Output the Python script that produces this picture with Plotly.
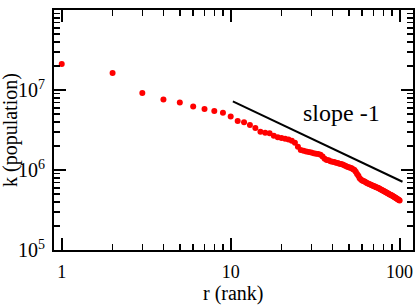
import math
import plotly.graph_objects as go

# ---- data ----
rank = list(range(1, 101))
population = [
    2.11e7, 1.63e7, 9.2e6, 7.6e6, 7.0e6, 6.2e6, 5.8e6, 5.45e6, 5.2e6, 4.68e6,
    4.1e6, 3.95e6, 3.65e6, 3.35e6, 3.0e6, 2.93e6, 2.87e6, 2.68e6, 2.57e6, 2.51e6,
    2.45e6, 2.40e6, 2.32e6, 2.19e6, 1.95e6, 1.78e6, 1.74e6, 1.70e6, 1.68e6, 1.66e6,
    1.62e6, 1.60e6, 1.58e6, 1.55e6, 1.48e6, 1.38e6, 1.33e6, 1.32e6, 1.29e6, 1.27e6,
    1.26e6, 1.23e6, 1.22e6, 1.20e6, 1.19e6, 1.17e6, 1.15e6, 1.12e6, 1.10e6, 1.08e6,
    1.07e6, 1.05e6, 1.02e6, 1.0e6, 9.5e5, 8.9e5, 8.5e5, 7.9e5, 7.6e5, 7.4e5,
    7.3e5, 7.2e5, 7.05e5, 6.9e5, 6.8e5, 6.7e5, 6.6e5, 6.5e5, 6.4e5, 6.3e5,
    6.25e5, 6.15e5, 6.1e5, 6.0e5, 5.96e5, 5.85e5, 5.75e5, 5.65e5, 5.58e5, 5.5e5,
    5.42e5, 5.35e5, 5.27e5, 5.2e5, 5.13e5, 5.05e5, 4.98e5, 4.92e5, 4.86e5, 4.8e5,
    4.73e5, 4.67e5, 4.6e5, 4.53e5, 4.47e5, 4.4e5, 4.33e5, 4.27e5, 4.22e5, 4.17e5,
]
slope_x = [10.3, 104]
slope_y = [7.2e6, 7.13e5]
slope_label = "slope -1"

x_tickvals = [1, 10, 100]
x_ticktext = ["1", "10", "100"]
x_minor = [2, 3, 4, 5, 6, 7, 8, 9, 20, 30, 40, 50, 60, 70, 80, 90]
y_tickvals = [1e5, 1e6, 1e7, 1e8]
y_ticktext = ["10<sup>5</sup>", "10<sup>6</sup>", "10<sup>7</sup>", "10<sup>8</sup>"]
y_minor = [m * 10 ** e for e in (5, 6, 7) for m in range(2, 10)]

x_range = [0.9, 120]
y_range = [1e5, 1e8]

FONT = "Liberation Serif, Times New Roman, serif"

fig = go.Figure()
fig.add_trace(go.Scatter(
    x=rank, y=population, mode="markers",
    marker=dict(color="#ff0000", size=6, line=dict(width=0)),
    showlegend=False, hoverinfo="skip",
))
fig.add_trace(go.Scatter(
    x=slope_x, y=slope_y, mode="lines",
    line=dict(color="black", width=2),
    showlegend=False, hoverinfo="skip",
))

axis_common = dict(
    type="log",
    showgrid=False, zeroline=False,
    showline=True, linecolor="black", linewidth=2,
    mirror="allticks",
    ticks="inside", ticklen=12, tickwidth=2, tickcolor="black",
    tickmode="array",
)

fig.update_xaxes(
    **axis_common,
    range=[math.log10(x_range[0]), math.log10(x_range[1])],
    tickvals=x_tickvals, ticktext=x_ticktext,
    tickfont=dict(family=FONT, size=18, color="black"),
    ticklabelstandoff=4,
    minor=dict(tickvals=x_minor, ticks="inside", ticklen=6, tickwidth=1.5,
               tickcolor="black", showgrid=False),
)
fig.update_yaxes(
    **axis_common,
    range=[math.log10(y_range[0]), math.log10(y_range[1])],
    tickvals=y_tickvals, ticktext=y_ticktext,
    tickfont=dict(family=FONT, size=20, color="black"),
    ticklabelstandoff=3,
    minor=dict(tickvals=y_minor, ticks="inside", ticklen=6, tickwidth=1.5,
               tickcolor="black", showgrid=False),
)

fig.add_annotation(
    x=math.log10(45), y=6.7125, xref="x", yref="y",
    text=slope_label, showarrow=False,
    font=dict(family=FONT, size=24, color="black"),
    xanchor="center", yanchor="middle",
)
fig.add_annotation(
    x=0.5, y=-0.1833, xref="paper", yref="paper",
    text="r (rank)", showarrow=False,
    font=dict(family=FONT, size=20, color="black"),
    xanchor="center", yanchor="middle",
)
fig.add_annotation(
    x=-0.1226, y=0.5, xref="paper", yref="paper",
    text="k (population)", showarrow=False, textangle=-90,
    font=dict(family=FONT, size=20, color="black"),
    xanchor="center", yanchor="middle",
)

fig.update_layout(
    width=415, height=305,
    margin=dict(l=54, r=2, t=10, b=55, autoexpand=False),
    paper_bgcolor="white", plot_bgcolor="white",
    font=dict(family=FONT, color="black"),
)

fig.write_html(
    "out.html",
    config={"displayModeBar": False, "staticPlot": True},
    post_script="document.body.style.margin='0';document.body.style.padding='0';"
                "document.body.style.overflow='hidden';",
)
